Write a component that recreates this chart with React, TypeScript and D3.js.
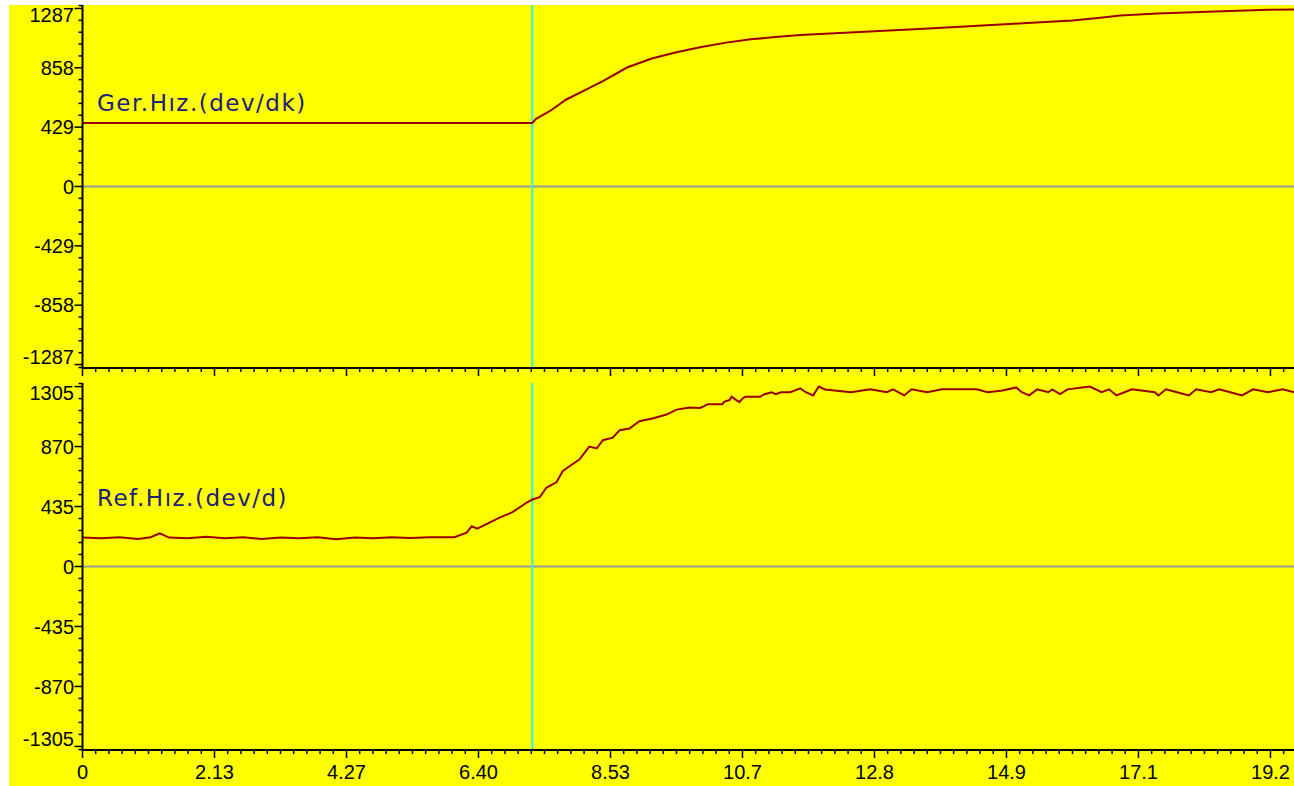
import React from 'react';
import * as d3 from 'd3';

// time axis (s)
const xTickValues = [0, 2.1333, 4.2667, 6.4, 8.5333, 10.6667, 12.8, 14.9333, 17.0667, 19.2];
const xTickLabels = ['0', '2.13', '4.27', '6.40', '8.53', '10.7', '12.8', '14.9', '17.1', '19.2'];
const cursorTime = 7.27;

// Ger.Hız. (dev/dk)
const gerTicks = [-1287, -858, -429, 0, 429, 858, 1287];
const gerT = [0, 7.27, 7.33, 7.55, 7.82, 8.09, 8.41, 8.8, 9.2, 9.6, 10.0, 10.4, 10.8, 11.2, 11.6, 12.0, 12.8, 13.6, 14.4, 15.2, 16.0, 16.45, 16.77, 17.37, 18.18, 19.16, 19.58];
const gerV = [459, 459, 489, 544, 629, 689, 761, 860, 925, 970, 1008, 1040, 1064, 1080, 1095, 1105, 1122, 1140, 1160, 1180, 1200, 1220, 1236, 1250, 1264, 1278, 1280];

// Ref.Hız. (dev/d)
const refTicks = [-1305, -870, -435, 0, 435, 870, 1305];
const refT = [0, 0.3, 0.6, 0.9, 1.1, 1.25, 1.4, 1.7, 2.0, 2.3, 2.6, 2.9, 3.2, 3.5, 3.8, 4.1, 4.4, 4.7, 5.0, 5.3, 5.6, 5.9, 6.01,
  6.21, 6.29, 6.38, 6.74, 6.95, 7.18, 7.27, 7.39, 7.5, 7.66, 7.76, 7.87, 8.03, 8.19, 8.31, 8.41, 8.57, 8.68, 8.84, 9.0, 9.21, 9.44, 9.6, 9.81, 9.98,
  10.04, 10.1, 10.34, 10.37, 10.46, 10.49, 10.56, 10.62, 10.66, 10.71, 10.95, 11.02, 11.14, 11.2, 11.29, 11.44, 11.6, 11.69, 11.81, 11.9, 12.0,
  12.42, 12.73, 13.0, 13.1, 13.28, 13.4, 13.65, 13.89, 14.14, 14.45, 14.63, 14.87, 15.09, 15.18, 15.3, 15.43, 15.61, 15.67, 15.8, 15.92,
  16.28, 16.47, 16.59, 16.71, 16.84, 16.96, 17.33, 17.39, 17.51, 17.69, 17.88, 18.0, 18.24, 18.37, 18.55, 18.74, 18.92, 19.16, 19.4, 19.58];
const refV = [210, 205, 212, 200, 212, 240, 210, 205, 215, 205, 212, 200, 210, 205, 212, 198, 210, 205, 212, 206, 212, 212, 212,
  246, 292, 275, 355, 394, 464, 486, 503, 573, 611, 691, 727, 776, 870, 856, 916, 935, 988, 1001, 1054, 1073, 1102, 1138, 1153, 1150,
  1162, 1176, 1176, 1195, 1209, 1231, 1209, 1192, 1215, 1231, 1231, 1250, 1264, 1250, 1264, 1264, 1292, 1264, 1241, 1305, 1284,
  1264, 1285, 1264, 1285, 1241, 1285, 1264, 1285, 1285, 1285, 1264, 1277, 1299, 1264, 1241, 1285, 1264, 1285, 1250, 1285,
  1305, 1264, 1285, 1241, 1264, 1285, 1264, 1241, 1285, 1264, 1241, 1285, 1264, 1285, 1264, 1241, 1285, 1264, 1285, 1264];

const W = 1294, H = 786;
const left = 82.5, right = 1294;
const bg = '#ffff00';
const lineColor = '#990000';
const textColor = '#20207a';
const font = '"Liberation Sans", Arial, sans-serif';

const x = d3.scaleLinear().domain([0, 19.58]).range([left, right]);
const xMinor = d3.range(0, 19.58, 2.1333 / 10);

const Panel = ({ top, bottom, dom, ticks, t, v, label, labelY, showX }) => {
  const y = d3.scaleLinear().domain([-dom, dom]).range([bottom, top]);
  const step = ticks[1] - ticks[0];
  const minor = d3.range(-3 * 5, 3 * 5 + 1).map(i => i * step / 5);
  const line = d3.line().x((d: any) => x(d[0])).y((d: any) => y(d[1]));
  const pts = t.map((tt, i) => [tt, v[i]]);
  return (
    <g>
      {/* zero line */}
      <line x1={left} x2={right} y1={y(0)} y2={y(0)} stroke="#9a9a9a" strokeWidth={2} />
      {/* cursor */}
      <line x1={x(cursorTime)} x2={x(cursorTime)} y1={top} y2={bottom} stroke="#33eeee" strokeWidth={2} />
      <path d={line(pts as any) || ''} fill="none" stroke={lineColor} strokeWidth={2} />
      {/* y axis */}
      <line x1={left} x2={left} y1={top} y2={bottom} stroke="#000" strokeWidth={2} />
      <line x1={left - 4} x2={left} y1={top + 0.5} y2={top + 0.5} stroke="#000" strokeWidth={1.5} />
      <line x1={left - 4} x2={left} y1={bottom - 0.5} y2={bottom - 0.5} stroke="#000" strokeWidth={1.5} />
      {minor.map((m, i) => (
        <line key={'m' + i} x1={left - (i % 5 === 0 ? 8 : 4)} x2={left} y1={y(m)} y2={y(m)} stroke="#000" strokeWidth={1.5} />
      ))}
      {ticks.map(tk => (
        <text key={tk} x={74} y={Math.min(Math.max(y(tk), top + 10), bottom - 11)} dy="0.36em"
          textAnchor="end" fontFamily={font} fontSize={20} fill="#000">{tk}</text>
      ))}
      {/* x axis */}
      <line x1={left - 1} x2={right} y1={bottom} y2={bottom} stroke="#000" strokeWidth={2} />
      {xMinor.map((m, i) => (
        <line key={'x' + i} x1={x(m)} x2={x(m)} y1={bottom} y2={bottom + (i % 10 === 0 ? 8 : 4)} stroke="#000" strokeWidth={1.5} />
      ))}
      {showX && xTickValues.map((tv, i) => (
        <text key={'xl' + i} x={x(tv)} y={779} textAnchor="middle" fontFamily={font} fontSize={20} fill="#000">{xTickLabels[i]}</text>
      ))}
      <text x={97} y={labelY} fontFamily='"DejaVu Sans", sans-serif' fontSize={23} letterSpacing={1.5} fill={textColor}>{label}</text>
    </g>
  );
};

export default function App() {
  return (
    <div style={{ position: 'absolute', left: 0, top: 0 }}>
      <svg width={W} height={H} style={{ display: 'block' }}>
        <rect x={0} y={0} width={W} height={H} fill="#fff" />
        <rect x={9} y={5} width={W - 9} height={H - 5} fill={bg} />
        <Panel top={5} bottom={368} dom={1312} ticks={gerTicks} t={gerT} v={gerV} label="Ger.Hız.(dev/dk)" labelY={111} showX={false} />
        <Panel top={383} bottom={750} dom={1331} ticks={refTicks} t={refT} v={refV} label="Ref.Hız.(dev/d)" labelY={506} showX={true} />
      </svg>
    </div>
  );
}
